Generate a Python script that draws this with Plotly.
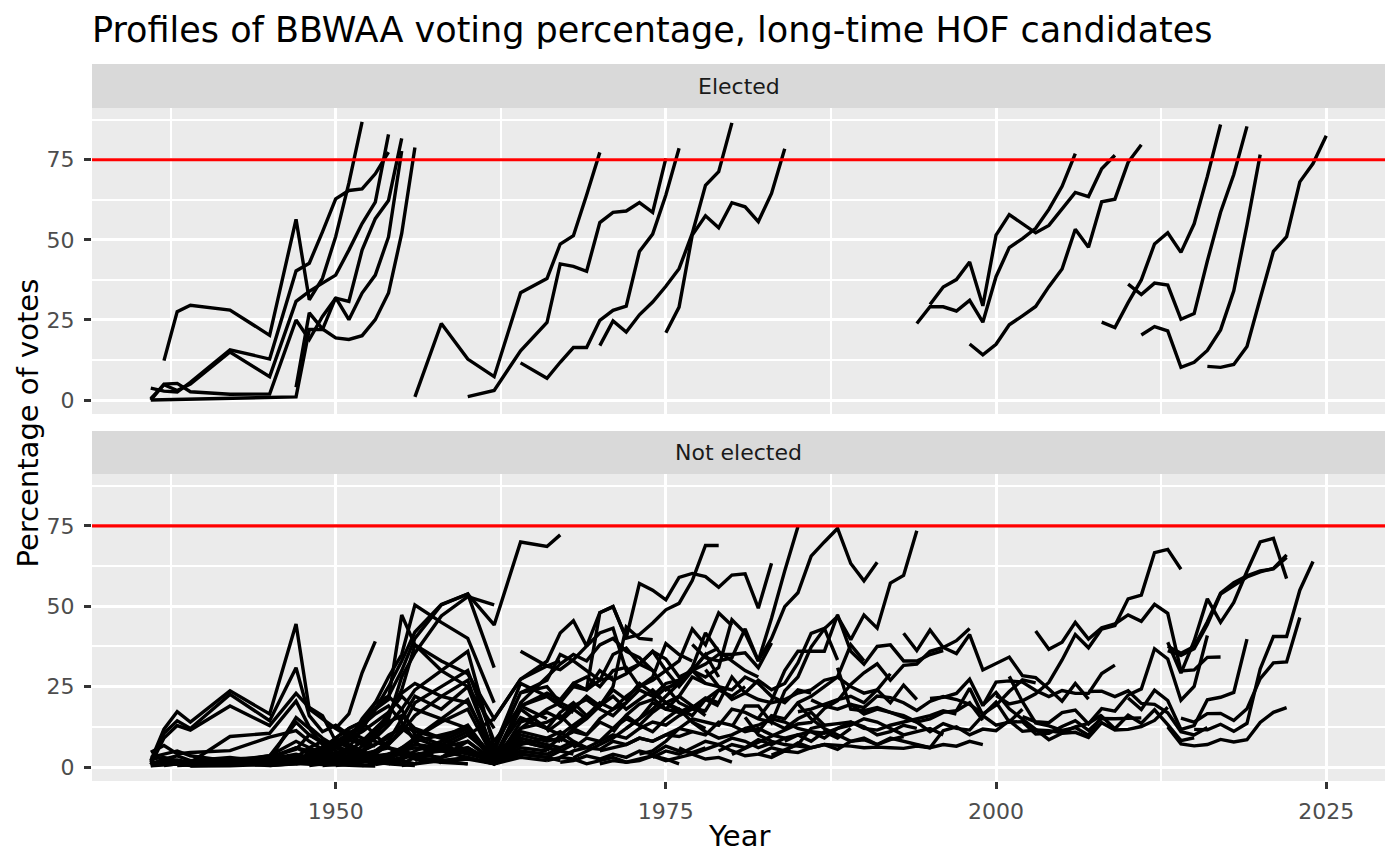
import plotly.graph_objects as go

FONT = "DejaVu Sans"

TITLE = "Profiles of BBWAA voting percentage, long-time HOF candidates"
PANELS = ["Elected", "Not elected"]
THRESHOLD = 75
X_TICKS = [1950, 1975, 2000, 2025]
Y_TICKS = [0, 25, 50, 75]

# ballot years (no BBWAA vote in 1940-41, 1943-44, 1946, 1957, 1959, 1961, 1963, 1965)
YEARS = [1936, 1937, 1938, 1939, 1942, 1945, 1947, 1948, 1949, 1950, 1951, 1952,
         1953, 1954, 1955, 1956, 1958, 1960, 1962, 1964, 1966, 1967, 1968, 1969,
         1970, 1971, 1972, 1973, 1974, 1975, 1976, 1977, 1978, 1979, 1980, 1981,
         1982, 1983, 1984, 1985, 1986, 1987, 1988, 1989, 1990, 1991, 1992, 1993,
         1994, 1995, 1996, 1997, 1998, 1999, 2000, 2001, 2002, 2003, 2004, 2005,
         2006, 2007, 2008, 2009, 2010, 2011, 2012, 2013, 2014, 2015, 2016, 2017,
         2018, 2019, 2020, 2021, 2022, 2023, 2024, 2025]

# (first ballot year, % on each following ballot); None = not on that ballot
ELECTED = [
    (1937, [12.3, 27.6, 29.6, 28.1, 20.2, 56.4, 31.3, 38.0, 51.0, 67.7, 86.8]),
    (1936, [3.7, 2.8, 2.5, 5.5, 15.7, 12.8, 40.3, 42.7, 52.5, 62.8, 65.4, 65.9, 70.6, 77.4]),
    (1936, [0.4, 4.8, 3.0, 5.0, 15.0, 7.3, 30.8, 33.9, 36.5, 39.0, 46.8, 55.1, 61.8, 82.9]),
    (1936, [0.0, 5.0, 5.2, 2.6, 1.8, 1.9, 25.0, 18.9, 26.1, 31.8, 30.8, 46.8, 56.6, 62.3, 81.7]),
    (1936, [0.0, None, None, None, None, None, 1.0, 22.0, 22.0, 32.0, 25.1, 33.4, 39.0, 50.9, 77.7]),
    (1947, [4.0, 27.2, 22.2, 19.4, 18.9, 20.1, 25.1, 33.4, 52.0, 78.8]),
    (1956, [1.0, 23.9, 12.8, 7.3, 33.5, 37.9, 48.7, 51.3, 64.0, 77.3]),
    (1960, [1.1, 3.0, 15.4, 24.2, 42.5, 41.7, 40.2, 55.4, 58.6, 59.0, 61.6, 58.6, 75.4]),
    (1964, [11.6, 6.8, 11.8, 16.4, 16.4, 24.9, 28.0, 29.3, 46.4, 51.8, 64.0, 78.6]),
    (1970, [17.0, 24.7, 21.2, 26.6, 30.6, 35.5, 41.0, 52.0, 67.0, 71.3, 86.5]),
    (1975, [21.0, 29.0, 51.5, 57.5, 53.8, 61.6, 60.3, 55.7, 64.5, 78.4]),
    (1994, [23.9, 29.1, 29.1, 27.8, 31.1, 24.3, 38.5, 47.6, 50.4, 53.6, 59.5, 66.7, 76.9]),
    (1995, [29.8, 35.3, 37.6, 43.1, 29.4, 51.5, 57.9, 55.1, 52.2, 54.5, 59.5, 64.8, 63.5, 72.2, 76.4]),
    (1998, [17.5, 14.1, 17.4, 23.5, 26.3, 29.2, 35.4, 40.9, 53.3, 47.7, 61.9, 62.7, 74.2, 79.7]),
    (2008, [24.3, 22.6, 30.4, 37.5, 48.7, 52.2, 46.1, 55.0, 69.8, 86.0]),
    (2010, [36.2, 32.9, 36.5, 35.9, 25.2, 27.0, 43.4, 58.6, 70.4, 85.4]),
    (2011, [20.3, 22.9, 21.6, 10.2, 11.8, 15.5, 21.9, 34.1, 54.6, 76.6]),
    (2016, [10.5, 10.2, 11.1, 16.7, 31.7, 46.4, 51.0, 68.1, 73.8, 82.5]),
]

NOT_ELECTED_1930S_40S = [
    (1936, [2.0, 11.8, 17.2, 14.0, 23.7, 16.5, 44.5, 18.0, 15.0, 12.0, 9.5, 8.0, 6.5]),
    (1936, [1.5, 10.5, 14.4, 12.0, 22.6, 14.4, 30.9, 16.0, 11.0, 13.0, 10.0, 7.0]),
    (1936, [0.8, 9.0, 12.9, 11.5, 19.0, 12.9, 22.9, 18.5, 16.0, 8.0, 6.0, 4.5, 3.5, 2.5]),
    (1936, [4.6, 6.7, 4.1, 4.5, 5.1, 9.3, 11.3, 8.0, 5.5, 4.0, 3.2, 2.0]),
    (1936, [0.5, 1.0, 1.5, 1.2, 2.0, 2.5, 4.0, 3.0, 2.0, 1.5, 1.0]),
    (1936, [1.0, 2.5, 3.5, 2.0, 3.0, 1.5, 2.0, 1.0, 0.8]),
    (1936, [3.0, 4.0, 5.0, 3.5, 1.8, 2.2, 15.4, 12.0, 7.0, 5.0, 3.0]),
    (1936, [0.4, 0.6, 0.9, 0.5, 0.7, 0.9, 1.2, 1.0, 0.8, 0.6, 0.5, 0.4, 0.3]),
    (1936, [2.5, 3.0, 2.0, 1.0, 1.5, 3.5, 8.0, 6.0, 4.0, 3.0, 2.5, 2.0, 1.5, 1.2, 1.0]),
    (1936, [0.6, 1.8, 2.2, 1.4, 9.5, 10.5, 20.5, 12.5, 9.0, 6.5, 4.5, 3.0]),
    (1937, [1.0, 1.5, 1.0, 2.0, 3.5, 13.9, 10.0, 7.5, 6.0, 4.0, 3.0, 2.0]),
    (1937, [0.5, 1.0, 0.8, 1.5, 2.0, 3.0, 2.5, 3.5, 4.0, 5.0, 3.5, 2.0, 1.5]),
    (1938, [0.5, 0.7, 1.2, 1.0, 2.0, 4.0, 6.0, 8.0, 7.0, 5.0, 3.0, 2.0]),
    (1938, [1.2, 1.5, 2.5, 3.0, 5.5, 10.0, 8.0, 6.5, 5.0, 3.5, 4.0, 2.5, 2.0, 1.0]),
    (1939, [0.5, 0.6, 1.5, 3.0, 2.0, 5.0, 9.0, 12.0, 14.0, 10.0, 6.0, 4.0]),
    (1939, [0.3, 0.4, 0.8, 1.2, 0.9, 1.5, 2.2, 1.8, 2.5, 1.6, 1.0, 0.7, 0.5]),
    (1942, [0.8, 1.5, 2.5, 4.0, 3.0, 6.0, 8.0, 15.0, 20.0, 22.0, 18.0, 10.0, 7.0, 4.0]),
    (1942, [1.0, 0.5, 1.0, 2.0, 2.5, 3.0, 5.0, 4.0, 3.0, 2.0, 1.5]),
    (1942, [2.0, 3.0, 6.0, 5.0, 4.0, 7.0, 11.0, 9.0, 8.0, 6.0, 5.0, 4.0]),
    (1945, [1.0, 2.0, 1.5, 3.0, 4.0, 6.0, 5.0, 7.0, 10.0, 12.0, 9.0, 6.0, 4.0, 2.0]),
    (1945, [0.5, 1.0, 1.5, 1.0, 2.0, 2.5, 3.0, 2.0, 3.5, 4.0, 2.5, 1.5, 1.0]),
    (1945, [1.5, 3.5, 2.5, 4.0, 6.0, 8.5, 7.0, 11.0, 14.0, 16.0, 12.0, 9.0, 5.0, 3.0]),
    (1945, [2.5, 6.0, 4.0, 5.5, 7.5, 10.5, 13.0, 16.5, 19.0, 14.0, 8.0, 1.2]),
]

NOT_ELECTED_1950S = [
    (1947, [2.0, 4.0, 6.0, 8.0, 10.0, 13.0, 20.0, 28.0, 35.0, 50.4, 45.0, 40.0, 20.0]),
    (1948, [3.0, 5.0, 7.0, 10.0, 12.0, 18.0, 22.0, 30.0, 40.0, 50.4, 53.8, 44.2, 70.0, 68.6, 72.2]),
    (1949, [2.0, 4.0, 6.0, 12.0, 18.0, 25.0, 33.0, 42.0, 50.6, 53.8, 30.9]),
    (1950, [1.0, 3.0, 5.0, 10.0, 15.0, 28.0, 35.5, 47.0, 53.0, 50.4]),
    (1950, [12.0, 16.5, 29.3, 39.1]),
    (1948, [5.0, 6.0, 9.0, 12.0, 14.0, 18.0, 21.0, 47.3, 38.0, 30.0, 25.0, 12.0]),
    (1948, [1.0, 2.0, 3.0, 5.0, 8.0, 12.0, 16.0, 24.0, 38.0, 33.0, 29.0, 15.0, 27.3, 31.4, 33.0]),
    (1951, [2.0, 4.0, 10.0, 17.0, 23.0, 26.0, 22.0, 20.0, 5.0, 23.1, 25.0, 20.0, 18.0, 15.0]),
    (1947, [3.0, 6.0, 8.0, 7.0, 9.0, 11.0, 14.0, 17.0, 22.0, 18.0, 15.0, 12.0, 3.0]),
    (1949, [1.0, 2.0, 3.5, 5.0, 7.0, 9.0, 13.0, 11.0, 9.0, 13.0, 2.0, 18.0, 12.0, 10.0]),
    (1950, [0.5, 1.0, 2.0, 2.5, 4.0, 6.0, 8.0, 10.0, 12.0, 1.5, 9.0, 7.0, 6.0, 8.0]),
    (1951, [1.5, 3.0, 5.0, 7.0, 12.0, 20.0, 25.0, 30.0, 8.0, 19.0, 15.0]),
    (1952, [2.0, 5.0, 8.0, 15.0, 22.0, 18.0, 25.0, 4.0, 15.4, 12.0]),
    (1953, [1.0, 3.0, 6.0, 9.0, 14.0, 18.0, 2.5, 10.0, 8.0, 9.0, 7.0]),
    (1954, [2.0, 5.0, 9.0, 15.0, 21.0, 3.0, 12.0, 14.0, 16.0, 12.0, 10.0]),
    (1955, [1.0, 3.0, 7.0, 11.0, 1.8, 8.0, 6.0, 5.0, 4.0]),
    (1947, [1.0, 1.5, 2.0, 3.0, 2.5, 4.0, 5.0, 6.0, 4.5, 3.0, 2.0, 1.0]),
    (1948, [0.5, 1.0, 1.5, 2.0, 3.0, 3.5, 4.0, 5.0, 6.0, 5.0, 3.0, 1.0, 4.0]),
    (1949, [0.5, 0.8, 1.0, 1.5, 2.0, 3.0, 4.0, 3.0, 2.0, 2.5, 1.0]),
    (1950, [1.0, 1.5, 2.0, 3.0, 4.0, 5.5, 7.0, 6.0, 8.0, 1.5, 6.0, 5.0]),
    (1952, [0.5, 1.0, 2.0, 3.0, 4.0, 3.0, 5.0, 1.0, 3.0, 2.0]),
    (1953, [0.8, 1.5, 2.5, 4.0, 5.0, 6.0, 1.5, 5.0, 4.0, 6.0]),
    (1955, [0.5, 1.0, 2.0, 3.0, 1.0, 4.0, 3.0, 2.0]),
    (1956, [2.0, 6.0, 10.0, 3.0, 19.0, 22.0, 20.0, 25.0, 24.0, 27.0, 28.0]),
    (1958, [3.0, 8.0, 2.0, 20.0, 28.0, 32.0, 35.0, 33.0, 38.0, 40.0, 36.0, 34.0, 30.0]),
    (1951, [3.0, 6.5, 9.0, 13.0, 18.0, 24.0, 30.0, 36.0, 6.0, 26.0, 22.0, 19.0, 17.0]),
    (1952, [1.5, 4.0, 7.0, 11.0, 16.0, 22.0, 27.0, 3.5, 11.0, 9.0, 8.0]),
    (1954, [1.0, 2.5, 5.0, 8.0, 12.0, 2.0, 7.0, 9.0, 11.0, 8.0, 6.0]),
    (1956, [1.0, 3.0, 6.0, 1.0, 14.0, 17.0, 15.0, 19.0, 21.0, 18.0, 16.0, 20.0]),
]

NOT_ELECTED_1960S_70S = [
    (1960, [10.0, 15.0, 27.3, 32.9, 41.7, 45.5, 37.6, 48.0, 49.9, 40.1, 41.2, 44.8, 48.9, 50.9, 58.0, 68.9, 68.9]),
    (1960, [5.0, 1.0, 12.0, 18.0, 20.0, 26.0, 28.0, 25.0, 30.0, 31.0, 25.0, 28.0, 38.4, 35.0, 33.0]),
    (1962, [2.0, 19.0, 23.0, 21.0, 26.0, 24.0, 30.0, 27.0, 29.0, 32.0, 36.0, 33.6, 28.0, 30.0, 26.0]),
    (1964, [36.0, 31.4, 30.3, 33.4, 37.6, 41.7, 43.2, 30.0, 32.0, 36.0, 30.0, 25.0, 30.0, 35.0, 28.0]),
    (1964, [23.1, 27.0, 35.0, 33.0, 30.0, 27.0, 35.0, 37.0, 32.0, 30.0, 24.0, 27.0, 30.0, 35.0, 37.0]),
    (1964, [15.0, 12.0, 17.0, 20.0, 16.0, 19.0, 22.0, 18.0, 21.0, 24.0, 20.0, 17.0, 19.0, 16.0]),
    (1964, [8.0, 6.0, 9.0, 11.0, 10.0, 14.0, 12.0, 16.0, 13.0, 11.0, 15.0, 18.0, 14.0, 12.0]),
    (1964, [4.0, 3.0, 5.0, 7.0, 6.0, 5.5, 8.0, 7.0, 9.0, 8.0, 10.0, 9.5, 11.0]),
    (1966, [5.0, 10.0, 13.0, 16.0, 20.0, 18.0, 22.0, 25.0, 27.0, 30.0, 33.0, 42.9, 38.0, 47.9, 44.0]),
    (1966, [2.0, 3.0, 2.5, 1.0, 2.0, 3.0, 1.5, 2.0, 3.5, 2.5, 1.0]),
    (1966, [11.0, 14.0, 18.0, 22.0, 19.0, 24.0, 21.0, 26.0, 23.0, 20.0, 22.0, 19.0, 17.0]),
    (1967, [8.0, 12.0, 15.0, 19.0, 25.0, 43.6, 40.0, 39.6]),
    (1967, [3.0, 5.0, 6.0, 8.0, 10.0, 9.0, 12.0, 14.0, 13.0, 16.0, 18.0, 21.0, 24.0, 22.0, 25.0]),
    (1967, [1.5, 2.0, 3.5, 2.5, 4.0, 3.0, 5.0, 4.0, 6.5, 5.0, 4.5, 6.0]),
    (1968, [2.9, 5.0, 7.0, 9.0, 12.0, 15.0, 18.0, 22.0, 26.0, 31.0, 41.7, 36.0, 33.0, 30.0, 28.0]),
    (1968, [6.0, 9.0, 8.0, 12.0, 15.0, 13.0, 17.0, 20.0, 18.0, 16.0, 21.0, 19.0]),
    (1969, [24.1, 48.0, 49.9, 40.1, 57.1, 55.0, 52.0, 59.0, 60.2, 59.2, 55.9, 59.7, 60.1, 49.4, 63.4]),
    (1969, [10.0, 15.0, 18.0, 20.0, 24.0, 22.0, 26.0, 27.0, 30.0, 32.0, 35.0, 35.0, 35.5, 30.9, 38.6]),
    (1970, [5.0, 6.0, 7.0, 9.0, 8.0, 10.0, 12.0, 11.0, 10.0, 14.0, 13.0, 11.0, 12.0, 10.0, 9.0]),
    (1970, [1.0, 2.0, 1.5, 2.5, 3.5, 2.0, 3.0, 4.0, 2.5, 3.0, 1.5]),
    (1971, [10.8, 16.1, 19.6, 21.0, 24.6, 26.0, 30.0, 28.0, 31.0, 45.8, 41.7, 33.0, 46.3, 61.0, 74.7]),
    (1972, [12.0, 15.0, 20.0, 18.0, 22.0, 28.0, 26.0, 25.0, 24.0, 28.0, 26.0, 22.0, 20.0, 24.0, 23.0]),
    (1973, [4.0, 5.0, 8.0, 12.0, 15.0, 14.0, 13.0, 18.0, 17.0, 15.0, 14.0, 12.0, 15.0, 17.0, 13.0]),
    (1974, [21.4, 18.0, 17.0, 18.5, 21.5, 20.0, 28.0, 23.0, 27.0, 24.0, 26.0, 32.4, 41.6, 43.1, 33.3]),
    (1974, [3.0, 5.0, 4.0, 6.0, 8.0, 7.0, 9.0, 8.0, 6.0, 7.5]),
    (1975, [25.0, 20.0, 18.0, 17.5, 24.0]),
    (1976, [6.0, 4.0, 5.5, 7.0, 5.0, 3.5, 4.0, 6.0, 5.0, 7.5, 6.0]),
    (1977, [38.1, 34.0, 33.0, 34.0, 43.0, 33.0, 40.0, 49.9, 54.2, 65.6, 70.0, 74.2, 63.3, 57.9, 63.7]),
    (1977, [14.0, 11.0, 9.0, 10.0, 12.0, 11.0, 16.0, 15.0, 20.0, 22.0, 25.0, 28.0, 38.0, 33.0]),
    (1978, [30.3, 25.0, 21.0, 23.0, 21.0, 20.0, 21.0, 23.0, 24.0, 27.0, 28.0, 25.0, 23.0, 24.0, 29.0]),
    (1979, [5.0, 7.0, 6.0, 8.5, 7.0, 9.0, 10.0, 8.0, 11.0, 9.0, 12.0]),
]

NOT_ELECTED_1980S_90S = [
    (1980, [12.5, 19.0, 19.0, 13.8, 23.7, 28.0, 37.3, 43.0, 46.8, 39.6, 47.3, 43.2, 57.2, 59.6, 73.5]),
    (1980, [3.9, None, None, None, None, 13.4, 13.9, 18.2, 20.6, 25.7, 29.3, 32.1, 27.0, 31.6, 32.0, 36.0, 37.2, 39.3, 43.1]),
    (1981, [15.5, 10.0, 8.0, 7.0, 6.5, 6.0, 7.0, 6.8, 6.5, 6.0, 6.2, 6.0, 5.8, 6.5, 6.0]),
    (1981, [12.0, 13.0, 15.0, 14.0, 12.0, 11.0, 10.5, 12.0, 13.0, 15.0, 14.0, 12.0, 10.0, 11.0, 12.0, 10.0]),
    (1982, [15.2, 20.6, 30.0, 36.0, 36.0, 36.0, 47.3, 36.0, 32.0, 37.5, 38.0, 33.0, 33.0, 35.0, 36.2]),
    (1982, [4.0, 3.0, 5.0, 4.5, 6.0, 7.0, 5.5, 8.0, 9.0, 7.0, 8.5, 9.5]),
    (1983, [3.7, None, 7.0, 12.0, 13.0, 13.5, 14.0, 12.0, 11.5, 13.0, 14.0, 15.0, 16.0, 17.5, 16.5]),
    (1984, [8.0, 10.0, 11.0, 9.0, 12.0, 14.0, 12.5, 10.0, 11.0, 13.0, 12.0]),
    (1985, [19.7, 15.0, 12.0, 10.0, 8.0, 8.5, 7.0, 9.0, 8.0, 7.0, 6.0, 7.0, 6.5, 8.0, 7.0]),
    (1985, [17.2, 18.0, 19.5, 21.0, 22.0, 20.0, 24.0, 20.0, 25.5, 21.0]),
    (1986, [20.9, 19.0, 18.0, 19.5, 16.5, 18.0, 17.0, 16.0, 14.0, 15.0, 17.0, 17.5, 20.0, 14.6]),
    (1988, [30.9, 18.0, 17.5, 18.5, 17.0, 15.5, 14.0, 11.0, 13.5, 12.0, 11.5, 16.0, 13.0, 14.0, 18.0]),
    (1989, [19.5, 18.5, 22.1, 21.6, 20.0, 17.6, 20.4, 21.9, 21.0, 19.5, 16.5, 19.2, 23.5, 27.1, 26.2]),
    (1993, [41.6, 36.2, 42.6, 37.2, 35.3, 41.2, 30.2, 32.1, 34.2, 28.4, 27.8, 24.3, 20.5, 26.0, 21.1]),
    (1994, [6.8, 6.0, 11.3, 12.5, 10.0, 11.8, 11.3, 14.4, 11.1, 11.5, 11.3, 10.7, 12.5, 13.6, 16.2]),
    (1995, [21.3, 21.7, 22.9, 27.3, 19.1, 26.4, 26.8, 26.4, 23.8, 21.9, 23.8, 22.9, 22.9, 29.1, 31.7]),
    (1997, [17.5, 24.5, 16.1, 20.2, 14.0, 14.1, 10.3, 10.5, 12.6, 14.4, 11.4, 15.1, 15.0, 15.2, 15.3]),
    (1999, [19.3, 23.2, 18.1, 14.8, 11.7, 8.5, 10.5, 10.8, 9.2, 13.8, 11.5, 11.7, 12.6, 14.5, 18.6]),
]

NOT_ELECTED_2000S = [
    (2000, [22.2, 19.6, 20.6, 22.8, 26.3, 33.3, 41.2, 37.1, 42.9, 44.0, 52.3, 53.5, 66.7, 67.7, 61.5]),
    (2001, [28.2, 20.3, 13.7, 12.8, 11.4, 12.3, 9.9, 15.8, 11.9, 16.1, 13.6, 17.8, 13.2, 8.2, 9.1]),
    (2002, [15.7, 14.1, 13.8, 16.9, 17.7, 13.4, 18.2, 17.4, 22.4, 24.3, 36.8, 33.6, 20.8, 25.1, 40.9]),
    (2003, [42.3, 36.6, 38.8, 45.0, 39.8, 43.3, 44.5, 47.3, 45.3, 50.6, 47.8, 29.9, 30.2, 34.1, 34.2]),
    (2007, [23.5, 23.6, 21.9, 23.7, 19.8, 19.5, 16.9, 11.0, 10.0, 12.3]),
    (2010, [21.5, 17.9, 23.9, 20.7, 11.7, 12.9, 20.9, 21.7, 23.2, 39.8]),
    (2013, [36.2, 34.7, 36.8, 44.3, 53.8, 56.4, 59.1, 60.7, 61.8, 66.0]),
    (2013, [37.6, 35.4, 37.5, 45.2, 54.1, 57.3, 59.5, 61.0, 61.6, 65.2]),
    (2013, [38.8, 29.2, 39.2, 52.3, 45.0, 51.2, 60.9, 70.0, 71.1, 58.6]),
    (2013, [12.5, 7.2, 6.6, 7.0, 8.6, 7.8, 8.5, 13.9, 17.0, 18.5]),
    (2014, [15.2, 14.0, 16.6, 16.7, 14.5, 18.1, 27.5, 32.4, 32.7, 46.5]),
    (2015, [11.7, 11.6, 13.3, 11.1, 13.6, 30.5, 40.6, 40.6, 55.0, 63.9]),
]

NOT_ELECTED = (NOT_ELECTED_1930S_40S + NOT_ELECTED_1950S + NOT_ELECTED_1960S_70S
               + NOT_ELECTED_1980S_90S + NOT_ELECTED_2000S)


def add_lines(fig, series, xa, ya):
    for first, vals in series:
        i = YEARS.index(first)
        fig.add_trace(go.Scatter(
            x=YEARS[i:i + len(vals)], y=vals,
            mode='lines', line=dict(color='black', width=3.4),
            connectgaps=True, xaxis=xa, yaxis=ya,
            hoverinfo='skip', showlegend=False,
        ))


fig = go.Figure()
add_lines(fig, ELECTED, 'x', 'y')
add_lines(fig, NOT_ELECTED, 'x2', 'y2')

# ggplot-like 5% expansion of the data range
all_vals = [v for _, s in ELECTED + NOT_ELECTED for v in s if v is not None]
y_lo, y_hi = min(all_vals), max(all_vals)
y_pad = 0.05 * (y_hi - y_lo)
y_range = [y_lo - y_pad, y_hi + y_pad]
x_pad = 0.05 * (YEARS[-1] - YEARS[0])
x_range = [YEARS[0] - x_pad, YEARS[-1] + x_pad]

# page has an 8px body margin, so the figure is 8px smaller than the window
W, H = 1392, 858
top_dom = [0.5119, 0.9386]
bot_dom = [0.0, 0.4282]

grid = dict(showgrid=True, gridcolor='white', gridwidth=3.0, zeroline=False,
            showline=False, automargin=False)
ax_x = dict(grid, range=x_range, tickvals=X_TICKS,
            minor=dict(tickvals=[1937.5, 1962.5, 1987.5, 2012.5], showgrid=True,
                       gridcolor='white', gridwidth=1.5))
ax_y = dict(grid, range=y_range, tickvals=Y_TICKS, ticks='outside', ticklen=7,
            tickwidth=2.6, tickcolor='#333333', ticklabelstandoff=5,
            tickfont=dict(size=22, color='#4D4D4D', family=FONT),
            minor=dict(tickvals=[12.5, 37.5, 62.5, 87.5], showgrid=True,
                       gridcolor='white', gridwidth=1.5))

fig.update_layout(
    width=W, height=H,
    margin=dict(l=84, r=15, t=56, b=85),
    paper_bgcolor='white', plot_bgcolor='#EBEBEB',
    font=dict(family=FONT, color='black'),
    showlegend=False,
    title=dict(text=TITLE, x=0, xref='paper', xanchor='left',
               y=1 - 22 / H, yref='container', yanchor='middle',
               font=dict(size=35, color='black', family=FONT)),
    xaxis=dict(ax_x, domain=[0, 1], anchor='y', showticklabels=False, ticks=''),
    yaxis=dict(ax_y, domain=top_dom, anchor='x'),
    xaxis2=dict(ax_x, domain=[0, 1], anchor='y2', matches='x', ticks='outside',
                ticklen=7, tickwidth=2.6, tickcolor='#333333', ticklabelstandoff=4,
                tickfont=dict(size=22, color='#4D4D4D', family=FONT)),
    yaxis2=dict(ax_y, domain=bot_dom, anchor='x2'),
)

shapes = []
for ref_x, ref_y in [('x domain', 'y'), ('x2 domain', 'y2')]:
    shapes.append(dict(type='line', xref=ref_x, x0=0, x1=1, yref=ref_y,
                       y0=THRESHOLD, y1=THRESHOLD, line=dict(color='red', width=3.2),
                       layer='above'))
# facet strips
strip_doms = [[0.9386, 1.0], [0.4282, 0.4881]]
for (y0, y1) in strip_doms:
    shapes.append(dict(type='rect', xref='paper', x0=0, x1=1, yref='paper', y0=y0, y1=y1,
                       fillcolor='#D9D9D9', line=dict(width=0), layer='below'))
fig.update_layout(shapes=shapes)

annotations = []
for label, (y0, y1) in zip(PANELS, strip_doms):
    annotations.append(dict(text=label, x=0.5, xref='paper', y=(y0 + y1) / 2, yref='paper',
                            showarrow=False, xanchor='center', yanchor='middle',
                            font=dict(size=22, color='#1A1A1A', family=FONT)))
annotations.append(dict(text='Year', x=0.5, xref='paper', y=-0.0767, yref='paper',
                        showarrow=False, xanchor='center', yanchor='middle',
                        font=dict(size=29, color='black', family=FONT)))
annotations.append(dict(text='Percentage of votes', x=-0.0495, xref='paper', y=0.5, yref='paper',
                        showarrow=False, xanchor='center', yanchor='middle', textangle=-90,
                        font=dict(size=29, color='black', family=FONT)))
fig.update_layout(annotations=annotations)

fig.write_html("out.html")
